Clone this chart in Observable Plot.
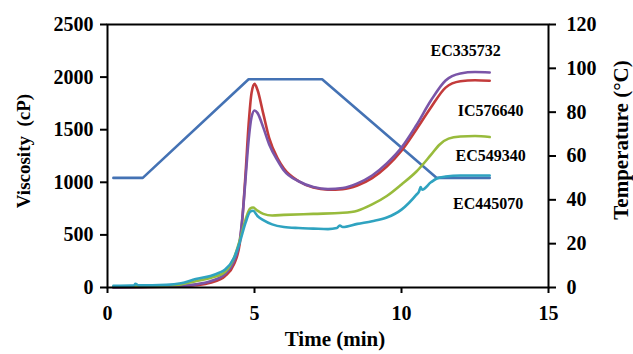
<!DOCTYPE html>
<html>
<head>
<meta charset="utf-8">
<script src="https://cdn.jsdelivr.net/npm/d3@7"></script>
<script src="https://cdn.jsdelivr.net/npm/@observablehq/plot@0.6"></script>
<style>
  html, body { margin: 0; padding: 0; background: white; }
</style>
</head>
<body>
<div id="chart"></div>
<script>
// Tick labels
const timeTicks = [0, 5, 10, 15];
const viscTicks = [0, 500, 1000, 1500, 2000, 2500];
const tempTicks = [0, 20, 40, 60, 80, 100, 120];

// Temperature profile (time min, °C)
const temperature = [[0.2, 50], [1.2, 50], [4.8, 95], [7.3, 95], [11.2, 50], [13.0, 50]];

// Viscosity (time min, cP)
const ec335732 = [[0.2,0],[1,5],[2,10],[2.5,15],[3,30],[3.5,60],[4,130],[4.3,250],[4.5,450],[4.6,700],[4.7,1050],[4.8,1400],[4.9,1620],[5.0,1683],[5.1,1660],[5.3,1520],[5.5,1360],[5.8,1200],[6.0,1112],[6.5,1010],[7.0,955],[7.5,935],[8.0,945],[8.5,990],[9.0,1065],[9.5,1180],[10.0,1330],[10.5,1540],[11.0,1777],[11.5,1968],[12.0,2034],[12.5,2048],[13.0,2044]];
const ic576640 = [[0.2,0],[1,3],[2,8],[2.5,12],[3,22],[3.5,45],[4,110],[4.3,220],[4.5,420],[4.6,700],[4.7,1100],[4.8,1550],[4.9,1850],[5.0,1936],[5.1,1880],[5.3,1650],[5.5,1420],[5.8,1220],[6.0,1130],[6.5,1010],[7.0,950],[7.5,930],[8.0,935],[8.5,970],[9.0,1040],[9.5,1150],[10.0,1300],[10.5,1500],[11.0,1711],[11.5,1900],[12.0,1960],[12.5,1970],[13.0,1965]];
const ec549340 = [[0.2,10],[1,12],[2,20],[2.5,30],[3,60],[3.5,90],[4,150],[4.3,280],[4.5,450],[4.7,650],[4.85,750],[4.95,760],[5.1,730],[5.3,700],[5.6,685],[6.0,690],[7.0,700],[8.0,710],[8.5,730],[9.0,790],[9.5,870],[10.0,980],[10.5,1100],[11.0,1260],[11.3,1360],[11.6,1415],[12.0,1435],[12.5,1440],[13.0,1430]];
const ec445070 = [[0.2,15],[0.9,20],[0.95,35],[1.05,20],[2,25],[2.5,40],[3,80],[3.5,110],[3.8,140],[4,170],[4.3,280],[4.5,430],[4.7,620],[4.85,720],[4.95,730],[5.1,680],[5.3,640],[5.6,600],[6.0,575],[6.5,565],[7.0,560],[7.5,555],[7.8,565],[7.9,590],[8.0,575],[8.5,605],[9.0,630],[9.5,665],[10.0,740],[10.5,880],[10.6,915],[10.65,955],[10.7,930],[11.0,1000],[11.2,1036],[11.5,1055],[12.0,1065],[13.0,1065]];

// Series labels
const labelNames = ["EC335732", "IC576640", "EC549340", "EC445070"];
const labelT = [12.18, 13.03, 13.03, 12.95];
const labelV = [2253, 1683, 1255, 798];

const tScale = 2500 / 120;
const toObj = (arr) => arr.map(([t, v]) => ({t, v}));
const labels = labelNames.map((name, i) => ({name, t: labelT[i], v: labelV[i]}));
const font = "'Liberation Serif', 'Times New Roman', serif";

const chart = Plot.plot({
  width: 633,
  height: 354,
  marginLeft: 107,
  marginRight: 85,
  marginTop: 24,
  marginBottom: 67,
  x: {domain: [0, 15]},
  y: {domain: [0, 2500]},
  style: {fontFamily: font, fontWeight: "bold", fontSize: "20px", color: "black", background: "white"},
  marks: [
    Plot.line(toObj(temperature), {x: "t", y: d => d.v * tScale, stroke: "#4472b4", strokeWidth: 2.6}),
    Plot.line(toObj(ic576640), {x: "t", y: "v", stroke: "#c33b3b", strokeWidth: 2.6, curve: "monotone-x"}),
    Plot.line(toObj(ec335732), {x: "t", y: "v", stroke: "#7a55a8", strokeWidth: 2.6, curve: "monotone-x"}),
    Plot.line(toObj(ec549340), {x: "t", y: "v", stroke: "#98bb3c", strokeWidth: 2.6, curve: "monotone-x"}),
    Plot.line(toObj(ec445070), {x: "t", y: "v", stroke: "#2fa3c0", strokeWidth: 2.6, curve: "monotone-x"}),
    Plot.frame({stroke: "black", strokeWidth: 2}),
    Plot.axisX({ticks: timeTicks, tickFormat: d => String(d), tickSize: 6, tickPadding: 12, label: null, strokeWidth: 2, fontSize: 20}),
    Plot.axisY({ticks: viscTicks, tickFormat: d => String(d), tickSize: 7, tickPadding: 7, label: null, strokeWidth: 2, fontSize: 20}),
    Plot.axisY({anchor: "right", ticks: tempTicks.map(t => t * tScale), tickFormat: d => String(Math.round(d / tScale)), tickSize: 7, tickPadding: 11, label: null, strokeWidth: 2, fontSize: 20}),
    Plot.text(labels, {x: "t", y: "v", text: "name", fontSize: 16, fontWeight: "bold", fill: "black"}),
    Plot.text(["Viscosity  (cP)"], {frameAnchor: "left", textAnchor: "middle", dx: -84, dy: -5, rotate: -90, fontSize: 19, fontWeight: "bold", fill: "black"}),
    Plot.text(["Temperature (°C)"], {frameAnchor: "right", textAnchor: "middle", dx: 73, dy: -16, rotate: -90, fontSize: 21, fontWeight: "bold", fill: "black"}),
    Plot.text(["Time (min)"], {frameAnchor: "bottom", textAnchor: "middle", dx: 7, dy: 58, fontSize: 21, fontWeight: "bold", fill: "black"})
  ]
});
document.getElementById("chart").appendChild(chart);
</script>
</body>
</html>
